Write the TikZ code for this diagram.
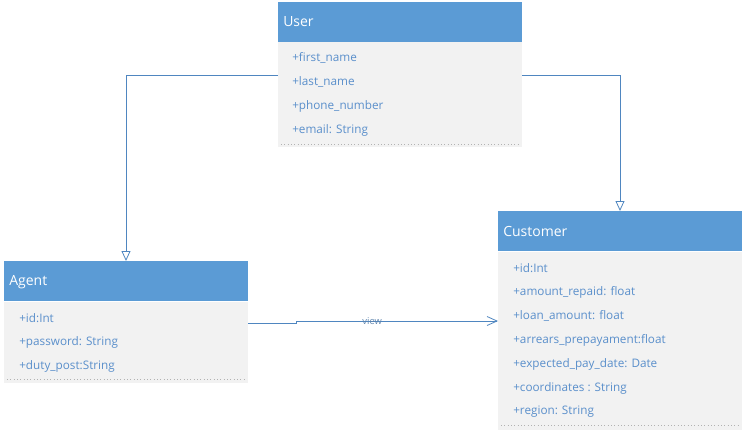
\documentclass[tikz,border=0pt]{standalone}
\usepackage{fontspec}
\setmainfont{Open Sans}
\usetikzlibrary{arrows.meta}
\definecolor{hdr}{HTML}{5B9BD5}
\definecolor{bodyc}{HTML}{F2F2F2}
\definecolor{txt}{HTML}{5A8FCB}
\definecolor{lnc}{HTML}{4F86C0}
\def\px{0.75pt}
\tikzset{
  hdrbox/.style={draw=none,fill=hdr,minimum height=40*\px,inner sep=0,outer sep=0},
  bodybox/.style={draw=none,fill=bodyc,inner sep=0,outer sep=0},
  hdrtext/.style={text=white,font=\fontsize{10.5}{12}\selectfont,anchor=west,inner sep=0},
  attr/.style={text=txt,font=\fontsize{8.8}{10}\selectfont,anchor=west,inner sep=0},
  sep/.style={draw=gray!60,dotted,line width=0.5pt},
  gen/.style={draw=lnc,line width=0.6pt,-{Triangle[open,length=10*\px,width=9*\px,fill=white]}},
  assoc/.style={draw=lnc,line width=0.6pt,-{Straight Barb[length=10*\px,width=9*\px,line width=0.6pt]}},
}
\begin{document}
\begin{tikzpicture}[x=0.75pt,y=-0.75pt]
\useasboundingbox (0,0) rectangle (744,432);
% User
\node[bodybox,minimum width=244*\px,minimum height=105*\px,anchor=north west] (userb) at (278,42) {};
\node[hdrbox,minimum width=244*\px,anchor=north west] (userh) at (278,2) {};
\node[hdrtext] (usert) at (283,22) {User};
\node[attr] (u1) at (292,58) {+first\_name};
\node[attr] (u2) at (292,82) {+last\_name};
\node[attr] (u3) at (292,106) {+phone\_number};
\node[attr] (u4) at (292,130) {+email: String};
\draw[sep] (281,144) -- (518,144);
% Agent
\node[bodybox,minimum width=244*\px,minimum height=81*\px,anchor=north west] (agentb) at (4,302) {};
\node[hdrbox,minimum width=244*\px,anchor=north west] (agenth) at (4,261) {};
\node[hdrtext] (agentt) at (9,282) {Agent};
\node[attr] (a1) at (19,318) {+id:Int};
\node[attr] (a2) at (19,342) {+password: String};
\node[attr] (a3) at (19,366) {+duty\_post:String};
\draw[sep] (7,379) -- (244,379);
% Customer
\node[bodybox,minimum width=244*\px,minimum height=178*\px,anchor=north west] (custb) at (498,252) {};
\node[hdrbox,minimum width=244*\px,anchor=north west] (custh) at (498,211) {};
\node[hdrtext] (custt) at (503,231) {Customer};
\node[attr] (c1) at (513,268) {+id:Int};
\node[attr] (c2) at (513,292) {+amount\_repaid: float};
\node[attr] (c3) at (513,316) {+loan\_amount: float};
\node[attr] (c4) at (513,340) {+arrears\_prepayament:float};
\node[attr] (c5) at (513,364) {+expected\_pay\_date: Date};
\node[attr] (c6) at (513,388) {+coordinates : String};
\node[attr] (c7) at (513,412) {+region: String};
\draw[sep] (501,425) -- (738,425);
% connectors
\draw[gen] ([yshift=-33*\px]userb.north west) -| (agenth.north);
\draw[gen] ([yshift=-33*\px]userb.north east) -| (custh.north);
\coordinate (v1) at (296,323);
\coordinate (v2) at (296,321);
\draw[assoc] ([yshift=-21*\px]agentb.north east) -- (v1) -- (v2) -- node[pos=0.377,text=lnc!70!gray,font=\fontsize{7}{8}\selectfont,inner sep=0] {view} ([yshift=-69*\px]custb.north west);
\end{tikzpicture}
\end{document}
